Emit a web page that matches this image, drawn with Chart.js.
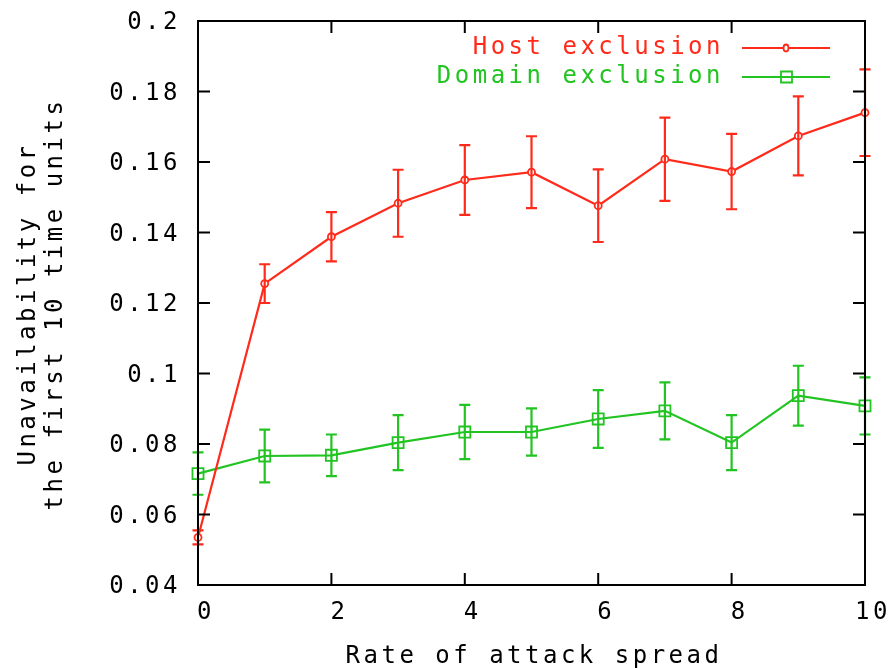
<!DOCTYPE html>
<html>
<head>
<meta charset="utf-8">
<title>Unavailability vs rate of attack spread</title>
<script src="https://cdn.jsdelivr.net/npm/chart.js@4.4.0/dist/chart.umd.min.js"></script>
<style>
  body { margin: 0; background: #fff; }
  #wrap { width: 895px; height: 668px; }
</style>
</head>
<body>
<div id="wrap"><canvas id="myChart" width="895" height="668"></canvas></div>
<script>
// rate of attack spread (x)
let rates = [0, 1, 2, 3, 4, 5, 6, 7, 8, 9, 10];
// mean unavailability and error half-widths per series
let hostValues = [0.0535, 0.1255, 0.1388, 0.1483, 0.1549, 0.1571, 0.1476, 0.1608, 0.1573, 0.1674, 0.174];
let hostErrors = [0.002, 0.0055, 0.007, 0.0095, 0.0099, 0.0102, 0.0103, 0.0118, 0.0107, 0.0112, 0.0123];
let domainValues = [0.0716, 0.0766, 0.0768, 0.0804, 0.0834, 0.0834, 0.0871, 0.0894, 0.0804, 0.0937, 0.0908];
let domainErrors = [0.006, 0.0075, 0.0059, 0.0078, 0.0077, 0.0067, 0.0082, 0.0081, 0.0078, 0.0085, 0.0081];
let xTicks = [0, 2, 4, 6, 8, 10];
let yTicks = [0.04, 0.06, 0.08, 0.1, 0.12, 0.14, 0.16, 0.18, 0.2];
let seriesNames = ["Host exclusion", "Domain exclusion"];
let yTitle = ["Unavailability for", "the first 10 time units"];
let xTitle = "Rate of attack spread";

const RED = "#ff2a1a";
const GREEN = "#22c422";
const FONT_SIZE = 24;
const FONT = FONT_SIZE + "px 'DejaVu Sans Mono'";
const SPACING = "3.5px";

function toPoints(vals) {
	return rates.map((r, i) => ({ x: r, y: vals[i] }));
}

// wide-pitched terminal look for every piece of text
const spacingPlugin = {
	id: "spacing",
	beforeUpdate(chart) { chart.ctx.letterSpacing = SPACING; },
	beforeDraw(chart) { chart.ctx.letterSpacing = SPACING; }
};

// vertical error bars with caps
const errorBars = {
	id: "errorBars",
	afterDatasetsDraw(chart) {
		const ctx = chart.ctx;
		const xs = chart.scales.x, ys = chart.scales.y;
		const sets = [[hostValues, hostErrors, RED], [domainValues, domainErrors, GREEN]];
		ctx.save();
		ctx.lineWidth = 2.2;
		sets.forEach(([vals, errs, col]) => {
			ctx.strokeStyle = col;
			rates.forEach((r, i) => {
				const px = xs.getPixelForValue(r);
				const top = ys.getPixelForValue(vals[i] + errs[i]);
				const bot = ys.getPixelForValue(vals[i] - errs[i]);
				ctx.beginPath();
				ctx.moveTo(px, top); ctx.lineTo(px, bot);
				ctx.moveTo(px - 5.5, top); ctx.lineTo(px + 5.5, top);
				ctx.moveTo(px - 5.5, bot); ctx.lineTo(px + 5.5, bot);
				ctx.stroke();
			});
		});
		ctx.restore();
	}
};

// border box, inward mirrored ticks, axis titles and key
const frame = {
	id: "frame",
	afterDraw(chart) {
		const ctx = chart.ctx;
		const a = chart.chartArea;
		const xs = chart.scales.x, ys = chart.scales.y;
		ctx.save();
		ctx.strokeStyle = "#000";
		ctx.lineWidth = 2;
		ctx.strokeRect(a.left, a.top, a.right - a.left, a.bottom - a.top);
		ctx.beginPath();
		yTicks.forEach(v => {
			const py = ys.getPixelForValue(v);
			ctx.moveTo(a.left, py); ctx.lineTo(a.left + 12, py);
			ctx.moveTo(a.right, py); ctx.lineTo(a.right - 12, py);
		});
		xTicks.forEach(v => {
			const px = xs.getPixelForValue(v);
			ctx.moveTo(px, a.bottom); ctx.lineTo(px, a.bottom - 12);
			ctx.moveTo(px, a.top); ctx.lineTo(px, a.top + 12);
		});
		ctx.stroke();

		ctx.letterSpacing = SPACING;
		ctx.font = FONT;
		ctx.fillStyle = "#000";
		ctx.textBaseline = "middle";
		ctx.textAlign = "center";
		ctx.fillText(xTitle, 534, 657);

		ctx.save();
		ctx.translate(0, 304);
		ctx.rotate(-Math.PI / 2);
		ctx.fillText(yTitle[0], 0, 29);
		ctx.fillText(yTitle[1], 0, 56);
		ctx.restore();

		// key
		const keyRows = [[seriesNames[0], RED, 48, "circle"], [seriesNames[1], GREEN, 77, "rect"]];
		keyRows.forEach(([name, col, y, shape]) => {
			ctx.fillStyle = col;
			ctx.strokeStyle = col;
			ctx.textAlign = "right";
			ctx.fillText(name, 724, y);
			ctx.lineWidth = 2.2;
			ctx.beginPath();
			ctx.moveTo(742, y); ctx.lineTo(830, y);
			ctx.stroke();
			ctx.lineWidth = 1.8;
			ctx.beginPath();
			if (shape === "circle") {
				ctx.ellipse(786, y, 2.5, 3.5, 0, 0, Math.PI * 2);
				ctx.fillStyle = "#fff";
				ctx.fill();
			} else {
				ctx.rect(781, y - 5.5, 11, 11);
			}
			ctx.stroke();
		});
		ctx.restore();
	}
};

const tickFont = { family: "'DejaVu Sans Mono'", size: FONT_SIZE };

const config = {
	type: "line",
	data: {
		datasets: [{
			label: seriesNames[0],
			data: toPoints(hostValues),
			borderColor: RED,
			borderWidth: 2.2,
			pointStyle: "circle",
			pointRadius: 3.5,
			pointBorderWidth: 1.8,
			pointBackgroundColor: "#fff",
			pointBorderColor: RED,
			clip: false,
			tension: 0
		}, {
			label: seriesNames[1],
			data: toPoints(domainValues),
			borderColor: GREEN,
			borderWidth: 2.2,
			pointStyle: "rect",
			pointRadius: 7.8,
			pointBorderWidth: 1.8,
			pointBackgroundColor: "rgba(0,0,0,0)",
			pointBorderColor: GREEN,
			clip: false,
			tension: 0
		}]
	},
	options: {
		responsive: false,
		devicePixelRatio: 1,
		animation: false,
		layout: { padding: { left: 0, top: 21, right: 30, bottom: 0 } },
		plugins: {
			legend: { display: false },
			tooltip: { enabled: false }
		},
		scales: {
			x: {
				type: "linear",
				min: 0, max: 10,
				grid: { display: false },
				border: { display: false },
				afterFit: s => {
					s.height = 83;
					s.paddingLeft = 0;
					s.paddingRight = 0;
				},
				afterBuildTicks: s => { s.ticks = xTicks.map(v => ({ value: v })); },
				ticks: {
					color: "#000",
					font: tickFont,
					padding: 5,
					labelOffset: 8,
					maxRotation: 0,
					callback: v => String(v)
				}
			},
			y: {
				type: "linear",
				min: 0.04, max: 0.2,
				grid: { display: false },
				border: { display: false },
				afterFit: s => {
					s.width = 198;
					s.paddingTop = 0;
					s.paddingBottom = 0;
				},
				afterBuildTicks: s => { s.ticks = yTicks.map(v => ({ value: v })); },
				ticks: {
					color: "#000",
					font: tickFont,
					padding: 9,
					labelOffset: 2,
					callback: v => String(+v.toFixed(2))
				}
			}
		}
	},
	plugins: [spacingPlugin, errorBars, frame]
};

new Chart("myChart", config);
</script>
</body>
</html>
